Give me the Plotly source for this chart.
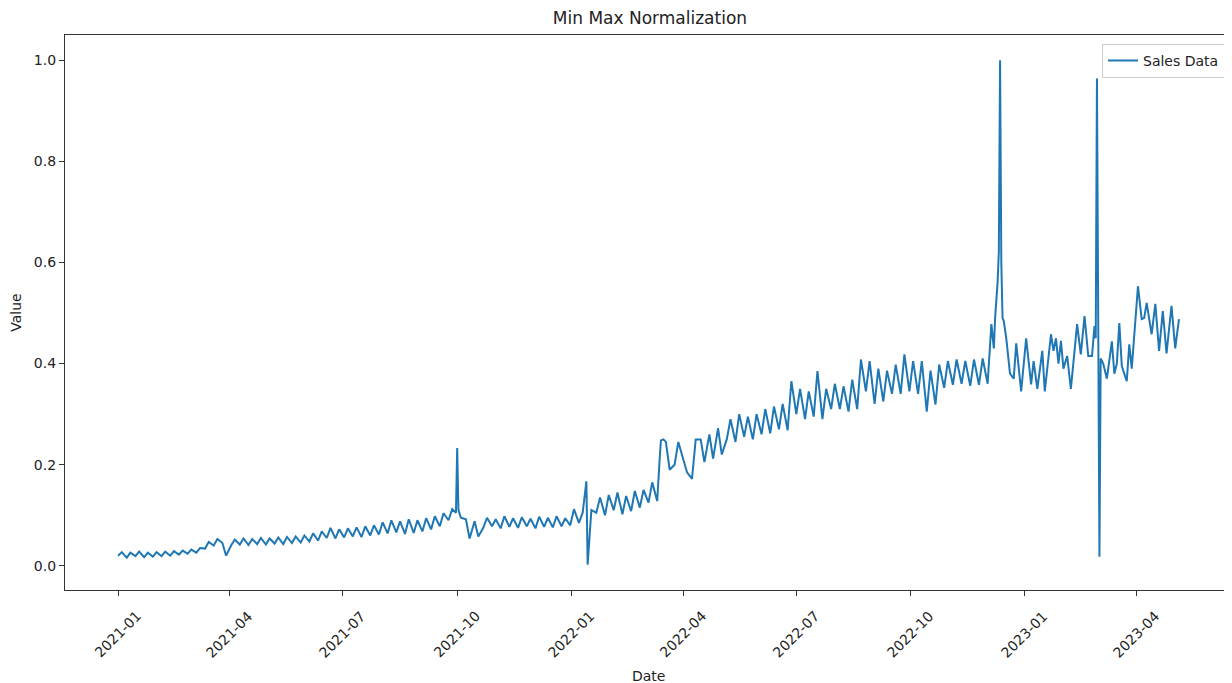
import pandas as pd
import plotly.graph_objects as go

# ---------------- data ----------------
start_date = "2021-01-01"

# one low/high pair per week: low at day 7*w, high at day 7*w+3
weekly_low = [
    0.020, 0.016, 0.019, 0.017, 0.018, 0.019, 0.020, 0.022, 0.024, 0.026,
    0.034, 0.040, 0.045, 0.040, 0.042, 0.041, 0.043, 0.042, 0.044, 0.043,
    0.045, 0.046, 0.048, 0.050, 0.055, 0.054, 0.056, 0.058, 0.057, 0.060,
    0.062, 0.064, 0.066, 0.063, 0.065, 0.068, 0.072, 0.078, 0.090, 0.233,
    0.092, 0.088, 0.075, 0.078, 0.074, 0.077, 0.075, 0.078, 0.074, 0.077,
    0.076, 0.078, 0.080, 0.085, 0.002, 0.105, 0.100, 0.110, 0.102, 0.108,
    0.115, 0.125, 0.128, 0.245, 0.200, 0.210, 0.172, 0.250, 0.260, 0.272,
    0.250, 0.245, 0.255, 0.250, 0.260, 0.262, 0.270, 0.268, 0.300, 0.290,
    0.295, 0.290, 0.310, 0.310, 0.305, 0.310, 0.345, 0.320, 0.325, 0.340,
    0.340, 0.345, 0.340, 0.305, 0.319, 0.352, 0.358, 0.360, 0.356, 0.358,
    0.360,
]
weekly_high = [
    0.027, 0.026, 0.028, 0.026, 0.027, 0.028, 0.029, 0.030, 0.032, 0.035,
    0.047, 0.053, 0.020, 0.052, 0.054, 0.053, 0.055, 0.054, 0.056, 0.057,
    0.058, 0.060, 0.064, 0.068, 0.075, 0.072, 0.074, 0.076, 0.078, 0.080,
    0.086, 0.090, 0.088, 0.092, 0.090, 0.094, 0.098, 0.104, 0.112, 0.095,
    0.054, 0.058, 0.095, 0.092, 0.098, 0.094, 0.096, 0.093, 0.097, 0.095,
    0.098, 0.094, 0.112, 0.105, 0.110, 0.135, 0.140, 0.145, 0.138, 0.148,
    0.150, 0.165, 0.248, 0.190, 0.245, 0.185, 0.250, 0.205, 0.212, 0.220,
    0.290, 0.300, 0.295, 0.300, 0.310, 0.315, 0.320, 0.365, 0.350, 0.345,
    0.385, 0.350, 0.360, 0.355, 0.368, 0.408, 0.405, 0.390, 0.386, 0.398,
    0.418, 0.405, 0.405, 0.386, 0.398, 0.405, 0.408, 0.405, 0.408, 0.410,
    0.478,
]

# single-day points around the spikes / jumps
extra_days = [272, 274, 377, 436, 439]
extra_values = [0.105, 0.110, 0.167, 0.212, 0.250]

# last part of the series (days since start)
tail_days = [705, 706, 708, 709, 710, 711, 712, 713, 715, 718, 721, 723, 727, 731,
             735, 737, 740, 744, 746, 751, 753, 755, 757, 759, 761, 764, 767, 769,
             772, 775, 778, 781, 784, 786, 787, 788, 790, 791, 793, 796, 800, 802,
             804, 806, 808, 812, 814, 816, 818, 821, 824, 826, 828, 832, 835, 838,
             841, 844, 848, 851, 854]
tail_values = [0.430, 0.490, 0.560, 0.620, 1.000, 0.600, 0.490, 0.484, 0.450, 0.380,
               0.370, 0.440, 0.345, 0.450, 0.359, 0.405, 0.350, 0.425, 0.345, 0.458,
               0.425, 0.450, 0.400, 0.445, 0.390, 0.415, 0.350, 0.400, 0.478, 0.418,
               0.494, 0.415, 0.415, 0.474, 0.450, 0.964, 0.018, 0.410, 0.400, 0.370,
               0.444, 0.380, 0.400, 0.480, 0.395, 0.365, 0.438, 0.390, 0.450, 0.553,
               0.488, 0.490, 0.520, 0.458, 0.518, 0.425, 0.504, 0.420, 0.514, 0.430,
               0.488]

tick_labels = ["2021-01", "2021-04", "2021-07", "2021-10", "2022-01", "2022-04",
               "2022-07", "2022-10", "2023-01", "2023-04"]
y_ticks = [0.0, 0.2, 0.4, 0.6, 0.8, 1.0]

# ---------------- assemble series ----------------
series = {}
for w, (lo, hi) in enumerate(zip(weekly_low, weekly_high)):
    series[7 * w] = lo
    series[7 * w + 3] = hi
for d, v in zip(extra_days, extra_values):
    series[d] = v
for d, v in zip(tail_days, tail_values):
    series[d] = v

start = pd.Timestamp(start_date)
day_list = sorted(series)
dates = [start + pd.Timedelta(days=d) for d in day_list]
values = [series[d] for d in day_list]

span = dates[-1] - dates[0]
x_range = [dates[0] - span * 0.05, dates[-1] + span * 0.05]
vmin, vmax = min(values), max(values)
y_range = [vmin - 0.05 * (vmax - vmin), vmax + 0.05 * (vmax - vmin)]

FONT = "DejaVu Sans"
TXT = "#222"
fig = go.Figure()
fig.add_trace(go.Scatter(x=dates, y=values, mode="lines", name="Sales Data",
                         line=dict(color="#1f77b4", width=2)))

tick_vals = [pd.Timestamp(t + "-01") for t in tick_labels]

annotations = []
for tv, tl in zip(tick_vals, tick_labels):
    annotations.append(dict(x=tv, y=-0.080, xref="x", yref="paper", text=tl,
                            showarrow=False, textangle=-45, xanchor="center",
                            yanchor="middle", font=dict(family=FONT, size=14, color=TXT)))
annotations.append(dict(x=0.5, y=-0.155, xref="paper", yref="paper", text="Date",
                        showarrow=False, xanchor="center", yanchor="middle",
                        font=dict(family=FONT, size=14, color=TXT)))

# the page body adds an 8 px offset, so the figure is sized to fill the rest
fig.update_layout(
    width=1224, height=675,
    margin=dict(l=57, r=0, t=27, b=93),
    paper_bgcolor="white", plot_bgcolor="white",
    title=dict(text="Min Max Normalization", x=0.5245, xanchor="center",
               y=1 - 10 / 675, yanchor="middle",
               font=dict(family=FONT, size=17, color=TXT)),
    font=dict(family=FONT, size=14, color=TXT),
    showlegend=True,
    legend=dict(x=0.994, y=0.984, xanchor="right", yanchor="top",
                bgcolor="white", bordercolor="#cccccc", borderwidth=1,
                font=dict(family=FONT, size=14, color=TXT)),
    annotations=annotations,
)
fig.update_xaxes(range=x_range, showgrid=False, zeroline=False, showline=True,
                 linecolor="#333", linewidth=1.3, mirror=True,
                 ticks="outside", ticklen=5, tickcolor="#333",
                 tickvals=tick_vals, showticklabels=False)
fig.update_yaxes(range=y_range, showgrid=False, zeroline=False, showline=True,
                 linecolor="#333", linewidth=1.3,
                 ticks="outside", ticklen=5, tickcolor="#333",
                 tickvals=y_ticks, tickformat=".1f",
                 tickfont=dict(family=FONT, size=14, color=TXT),
                 title=dict(text="Value", standoff=8,
                            font=dict(family=FONT, size=14, color=TXT)))

fig.write_html("out.html")
